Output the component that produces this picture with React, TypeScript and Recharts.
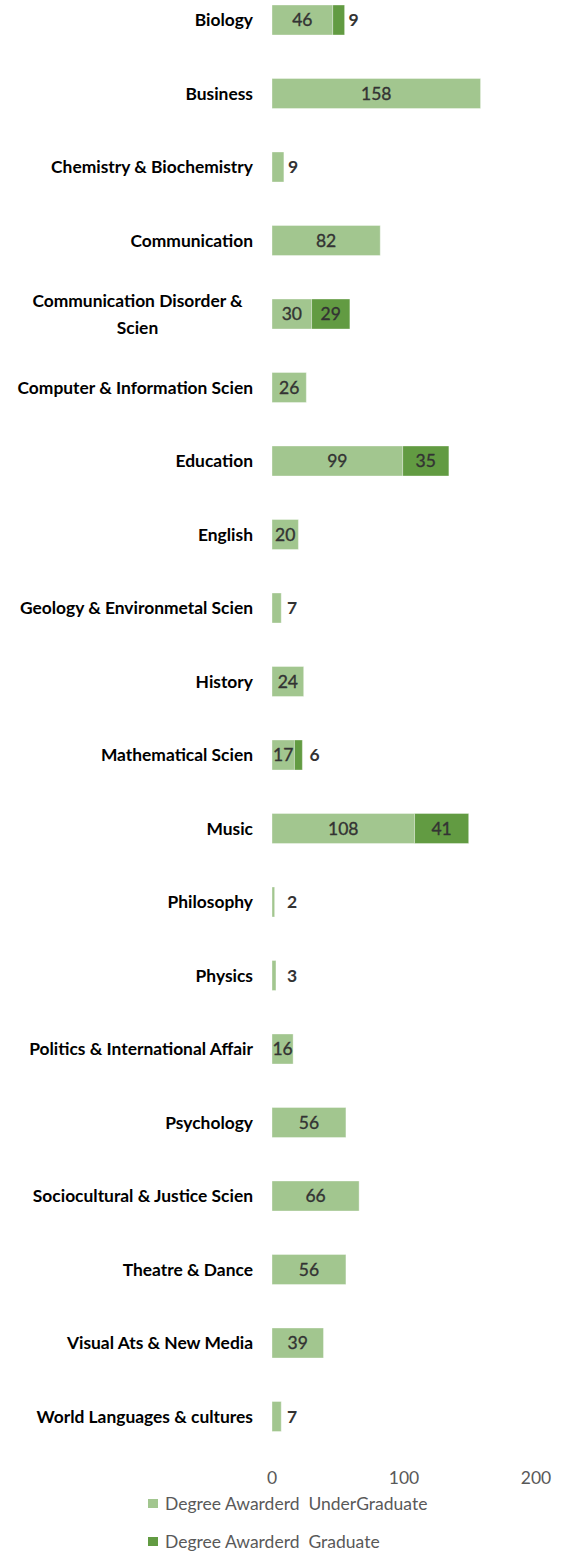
import React from 'react';
import { BarChart, Bar, XAxis, YAxis, LabelList } from 'recharts';

const categories: string[] = [
  'Biology',
  'Business',
  'Chemistry & Biochemistry',
  'Communication',
  'Communication Disorder &\nScien',
  'Computer & Information Scien',
  'Education',
  'English',
  'Geology & Environmetal Scien',
  'History',
  'Mathematical Scien',
  'Music',
  'Philosophy',
  'Physics',
  'Politics & International Affair',
  'Psychology',
  'Sociocultural & Justice Scien',
  'Theatre & Dance',
  'Visual Ats & New Media',
  'World Languages & cultures',
];

const undergraduate: (number | null)[] = [46, 158, 9, 82, 30, 26, 99, 20, 7, 24, 17, 108, 2, 3, 16, 56, 66, 56, 39, 7];
const graduate: (number | null)[] = [9, null, null, null, 29, null, 35, null, null, null, 6, 41, null, null, null, null, null, null, null, null];

const xTicks: number[] = [0, 100, 200];
const seriesNames: string[] = ['Degree Awarderd  UnderGraduate', 'Degree Awarderd  Graduate'];
const seriesColors: string[] = ['#A2C68F', '#629B42'];

const data = categories.map((c, i) => ({ category: c, ug: undergraduate[i], g: graduate[i] }));

const FONT = 'Lato, "Open Sans", sans-serif';

const renderLabel = (props: any) => {
  const { x, y, width, height, value } = props;
  if (value == null || value === 0) return null;
  const txt = String(value);
  const cy = Number(y) + Number(height) / 2;
  const w = Number(width);
  if (w >= 15) {
    return (
      <text
        x={Number(x) + w / 2}
        y={cy}
        dy="0.36em"
        textAnchor="middle"
        fontFamily={FONT}
        fontSize={17.5}
        fill="#333333"
        stroke="#333333"
        strokeWidth={0.35}
      >
        {txt}
      </text>
    );
  }
  const lx = Math.max(Number(x) + w + 4, Number(x) + 15);
  return (
    <text x={lx} y={cy} dy="0.36em" textAnchor="start" fontFamily={FONT} fontSize={17.5} fontWeight="bold" fill="#333333">
      {txt}
    </text>
  );
};

const CategoryTick = (props: any) => {
  const { x, y, payload } = props;
  const lines = String(payload.value).split('\n');
  const style = { fontFamily: FONT, fontSize: 17.4, fontWeight: 'bold' as const, fill: '#000000' };
  if (lines.length === 1) {
    return (
      <text x={x} y={y} dy="0.36em" textAnchor="end" {...style}>
        {lines[0]}
      </text>
    );
  }
  const cx = x - 115.5;
  const gap = 27;
  const start = y - ((lines.length - 1) * gap) / 2;
  return (
    <g>
      {lines.map((l, i) => (
        <text key={i} x={cx} y={start + i * gap} dy="0.36em" textAnchor="middle" {...style}>
          {l}
        </text>
      ))}
    </g>
  );
};

export default function App() {
  return (
    <div style={{ position: 'absolute', left: 0, top: 0, width: 565, height: 1558, background: '#ffffff', overflow: 'hidden' }}>
      <div style={{ position: 'absolute', left: 0, top: -17 }}>
        <BarChart
          width={565}
          height={1517}
          data={data}
          layout="vertical"
          margin={{ top: 0, right: 29, left: 0, bottom: 0 }}
          barSize={30}
        >
          <XAxis
            type="number"
            domain={[0, 200]}
            ticks={xTicks}
            axisLine={false}
            tickLine={false}
            tickSize={0}
            tickMargin={19}
            height={47}
            tick={{ fill: '#595959', fontSize: 17.5, fontFamily: FONT }}
          />
          <YAxis
            type="category"
            dataKey="category"
            width={272}
            axisLine={false}
            tickLine={false}
            tickSize={0}
            tickMargin={19}
            interval={0}
            tick={<CategoryTick />}
          />
          <Bar dataKey="ug" stackId="a" fill={seriesColors[0]} stroke="#ffffff" strokeOpacity={0.35} isAnimationActive={false}>
            <LabelList dataKey="ug" content={renderLabel} />
          </Bar>
          <Bar dataKey="g" stackId="a" fill={seriesColors[1]} stroke="#ffffff" strokeOpacity={0.35} isAnimationActive={false}>
            <LabelList dataKey="g" content={renderLabel} />
          </Bar>
        </BarChart>
      </div>
      {seriesNames.map((name, i) => (
        <div
          key={name}
          style={{
            position: 'absolute',
            left: 148,
            top: (i === 0 ? 1503 : 1541) - 11,
            height: 22,
            display: 'flex',
            alignItems: 'center',
            fontFamily: FONT,
            fontSize: 17.5,
            color: '#595959',
            whiteSpace: 'pre',
          }}
        >
          <span style={{ display: 'inline-block', width: 10, height: 9, background: seriesColors[i], marginRight: 7 }} />
          <span>{name}</span>
        </div>
      ))}
    </div>
  );
}
